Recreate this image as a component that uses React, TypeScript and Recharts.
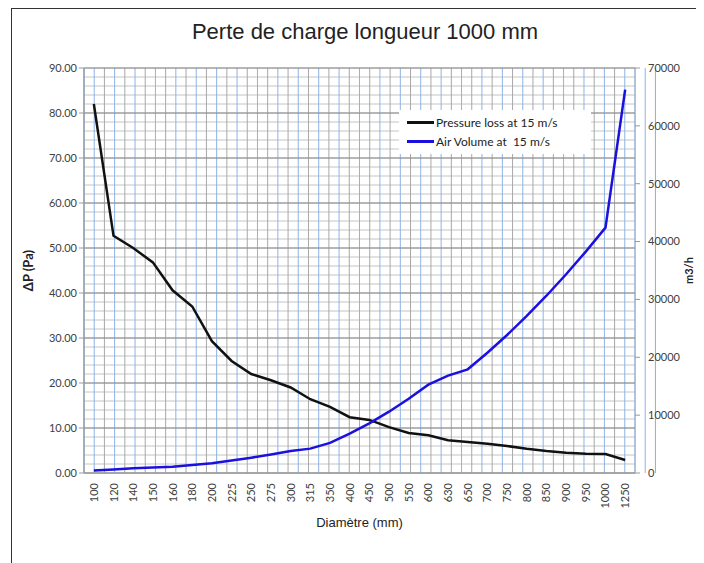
import React from "react";
import { ComposedChart, Line, XAxis, YAxis, CartesianGrid } from "recharts";

const diameters = ["100", "120", "140", "150", "160", "180", "200", "225", "250", "275", "300", "315", "350", "400", "450", "500", "550", "600", "630", "650", "700", "750", "800", "850", "900", "950", "1000", "1250"];
const pressureLoss = [82, 52.7, 50, 46.8, 40.6, 37, 29.3, 24.9, 22, 20.6, 19, 16.4, 14.7, 12.4, 11.8, 10.2, 8.9, 8.4, 7.3, 6.9, 6.5, 6.0, 5.4, 4.9, 4.5, 4.3, 4.2, 2.9];
const airVolume = [420, 610, 830, 950, 1090, 1370, 1700, 2150, 2650, 3210, 3820, 4210, 5200, 6790, 8590, 10600, 12830, 15270, 16830, 17920, 20780, 23850, 27140, 30640, 34350, 38270, 42410, 66260];

const leftTicks = [0, 10, 20, 30, 40, 50, 60, 70, 80, 90];
const rightTicks = [0, 10000, 20000, 30000, 40000, 50000, 60000, 70000];
const minorTicks = Array.from({ length: 46 }, (_, i) => i * 2);
const bandEdges = Array.from({ length: diameters.length + 1 }, (_, i) => i);
const bandCenters = diameters.map((_, i) => i + 0.5);

const seriesNames = ["Pressure loss at 15 m/s", "Air Volume at  15 m/s"];
const seriesColors = ["#111", "#1a10e0"];

const data = diameters.map((d, i) => ({
  d,
  pressure: pressureLoss[i],
  volume: airVolume[i],
}));

const tickFont = { fontFamily: "Lato, 'Open Sans', sans-serif", fontSize: 11, fill: "#404040" };

function XTick(props: any) {
  const { x, y, payload } = props;
  return (
    <text
      x={x}
      y={y}
      transform={`rotate(-90, ${x}, ${y})`}
      textAnchor="end"
      dy={4}
      dx={-2}
      style={tickFont}
    >
      {payload.value}
    </text>
  );
}

export default function App() {
  return (
    <div
      style={{
        position: "relative",
        width: 688,
        height: 555,
        borderLeft: "1px solid #333",
        borderRight: "1px solid #333",
        borderTop: "1px solid #333",
        boxSizing: "border-box",
        marginLeft: 3,
        background: "#fff",
      }}
    >
      <div
        style={{
          position: "absolute",
          top: 10,
          left: 0,
          width: 706,
          textAlign: "center",
          fontFamily: "'Liberation Sans', Arial, sans-serif",
          fontSize: 22,
          color: "#222",
        }}
      >
        Perte de charge longueur 1000 mm
      </div>
      <div style={{ position: "absolute", left: -4, top: 0 }}>
        <ComposedChart
          width={696}
          height={555}
          data={data}
          margin={{ top: 59, right: 9, left: 16, bottom: 41 }}
        >
          <XAxis
            dataKey="d"
            scale="band"
            interval={0}
            tick={<XTick />}
            tickLine={false}
            axisLine={{ stroke: "#999" }}
            height={50}
            label={{
              value: "Diamètre (mm)",
              position: "insideBottom",
              offset: -4,
              style: { fontFamily: "'Liberation Sans', Arial, sans-serif", fontSize: 13, fill: "#222" },
            }}
          />
          <XAxis
            xAxisId="edges"
            type="number"
            domain={[0, diameters.length]}
            ticks={bandEdges}
            interval={0}
            allowDataOverflow
            hide
          />
          <XAxis
            xAxisId="centers"
            type="number"
            domain={[0, diameters.length]}
            ticks={bandCenters}
            interval={0}
            allowDataOverflow
            hide
          />
          <YAxis
            yAxisId="left"
            domain={[0, 90]}
            ticks={leftTicks}
            interval={0}
            tickFormatter={(v: number) => v.toFixed(2)}
            tick={tickFont}
            axisLine={{ stroke: "#999" }}
            tickLine={{ stroke: "#999" }}
            tickSize={5}
            width={60}
            label={{
              value: "ΔP (Pa)",
              angle: -90,
              position: "insideLeft",
              offset: 4,
              style: { fontFamily: "Lato, 'Open Sans', sans-serif", fontSize: 13, fontWeight: 700, fill: "#222", textAnchor: "middle" },
            }}
          />
          <YAxis
            yAxisId="minor"
            domain={[0, 90]}
            ticks={minorTicks}
            interval={0}
            allowDataOverflow
            hide
          />
          <YAxis
            yAxisId="right"
            orientation="right"
            domain={[0, 70000]}
            ticks={rightTicks}
            interval={0}
            tick={tickFont}
            axisLine={false}
            tickLine={{ stroke: "#999" }}
            tickSize={5}
            tickMargin={8}
            width={60}
            label={{
              value: "m3/h",
              angle: -90,
              position: "insideRight",
              offset: 6,
              style: { fontFamily: "Lato, 'Open Sans', sans-serif", fontSize: 11, fontWeight: 700, fill: "#222", textAnchor: "middle" },
            }}
          />
          <CartesianGrid yAxisId="minor" vertical={false} stroke="#c4c4c4" />
          <CartesianGrid xAxisId="edges" yAxisId="left" horizontal={false} stroke="#a8a8a8" />
          <CartesianGrid xAxisId="centers" yAxisId="left" horizontal={false} stroke="#8db3e6" />
          <CartesianGrid yAxisId="left" vertical={false} stroke="#8a8a8a" />
          <Line
            yAxisId="left"
            type="linear"
            dataKey="pressure"
            name={seriesNames[0]}
            stroke={seriesColors[0]}
            strokeWidth={2.5}
            dot={false}
            isAnimationActive={false}
          />
          <Line
            yAxisId="right"
            type="linear"
            dataKey="volume"
            name={seriesNames[1]}
            stroke={seriesColors[1]}
            strokeWidth={2.5}
            dot={false}
            isAnimationActive={false}
          />
        </ComposedChart>
      </div>
      <div
        style={{
          position: "absolute",
          left: 387,
          top: 101,
          width: 192,
          padding: "3px 0 3px 8px",
          boxSizing: "border-box",
          background: "#fff",
          fontFamily: "Lato, 'Open Sans', sans-serif",
          fontSize: 12,
          color: "#222",
          lineHeight: "19px",
        }}
      >
        {seriesNames.map((n, i) => (
          <div key={n} style={{ display: "flex", alignItems: "center", whiteSpace: "pre" }}>
            <div style={{ width: 27, height: 2.5, background: seriesColors[i], marginRight: 2 }} />
            <span>{n}</span>
          </div>
        ))}
      </div>
    </div>
  );
}
